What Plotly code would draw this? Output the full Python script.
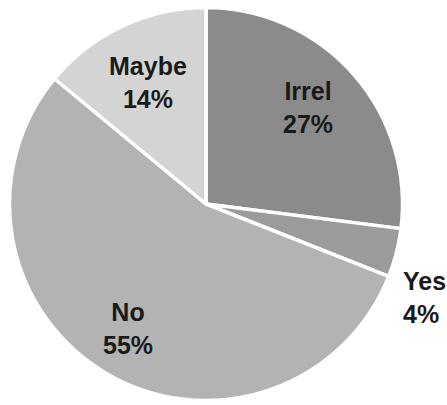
import math
import plotly.graph_objects as go

labels = ["Irrel", "Yes", "No", "Maybe"]
values = [27, 4, 55, 14]
colors = ["#8b8b8b", "#9b9b9b", "#b3b3b3", "#d4d4d4"]

# label placement style: radial factor, angle nudge (deg), anchor
label_rfac = [0.72, 1.11, 0.75, 0.69]
label_nudge = [-2.2, 11.2, 1.4, -0.4]
label_anchor = ["center", "left", "center", "center"]

W, H = 447, 405
CX, CY, R = 206, 204, 196.5  # pie centre (px from left/top) and radius

fig = go.Figure(go.Pie(
    labels=labels,
    values=values,
    sort=False,
    direction="clockwise",
    rotation=0,
    marker=dict(colors=colors, line=dict(color="white", width=3.5)),
    textinfo="none",
    hoverinfo="label+percent",
    showlegend=False,
    domain=dict(x=[(CX - R) / W, (CX + R) / W],
                y=[(H - CY - R) / H, (H - CY + R) / H]),
))

total = sum(values)
cum = 0.0
annotations = []
for lab, v, rf, nd, anc in zip(labels, values, label_rfac, label_nudge, label_anchor):
    mid = (cum + v / 2) / total * 360.0 + nd
    cum += v
    rr = rf * (R - 1.5)
    px = CX + rr * math.sin(math.radians(mid))
    py = CY - rr * math.cos(math.radians(mid))
    annotations.append(dict(
        x=px / W, y=(H - py) / H, xref="paper", yref="paper",
        text=f"<b>{lab}</b><br><b>{v / total * 100:.0f}%</b>",
        showarrow=False, xanchor=anc, yanchor="middle",
        align="left" if anc == "left" else "center",
        font=dict(family="Liberation Sans", size=25, color="#1a1a1a"),
    ))

fig.update_layout(
    width=W, height=H,
    margin=dict(l=0, r=0, t=0, b=0),
    paper_bgcolor="white",
    annotations=annotations,
)
fig.write_html("out.html")
